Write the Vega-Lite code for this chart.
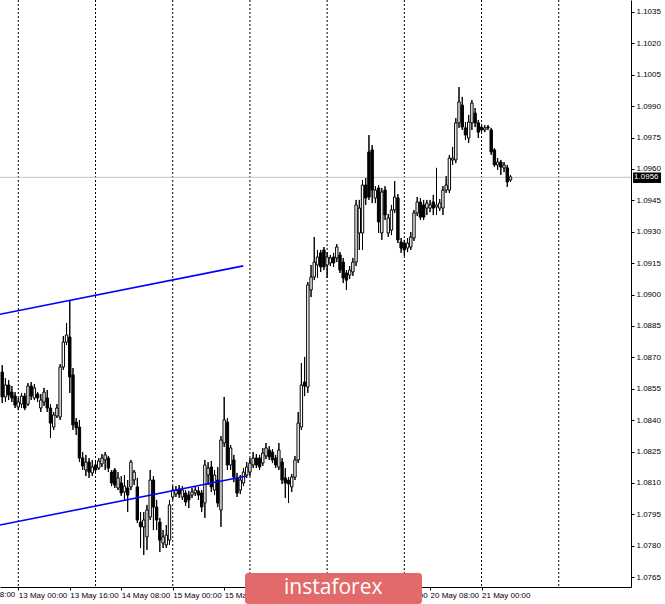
{
"$schema": "https://vega.github.io/schema/vega-lite/v6.json",
"width": 631, "height": 587,
"autosize": {"type": "none"},
"padding": {"left": 0, "top": 0, "right": 34, "bottom": 17},
"background": "white",
"config": {"view": {"stroke": null}, "axis": {"labelOverlap": false, "labelBound": false, "labelFlush": false, "grid": false, "tickCount": 100}, "scale": {"continuousPadding": 0}},
"datasets": {
"candles": [
{"t":-5,"open":1.08630,"high":1.08663,"low":1.08482,"close":1.08511},
{"t":-4,"open":1.08511,"high":1.08601,"low":1.08487,"close":1.08568},
{"t":-3,"open":1.08568,"high":1.08592,"low":1.08496,"close":1.08520},
{"t":-2,"open":1.08534,"high":1.08563,"low":1.08487,"close":1.08506},
{"t":-1,"open":1.08515,"high":1.08534,"low":1.08458,"close":1.08472},
{"t":0,"open":1.08463,"high":1.08506,"low":1.08448,"close":1.08487},
{"t":1,"open":1.08477,"high":1.08530,"low":1.08458,"close":1.08515},
{"t":2,"open":1.08515,"high":1.08530,"low":1.08448,"close":1.08458},
{"t":3,"open":1.08477,"high":1.08577,"low":1.08468,"close":1.08563},
{"t":4,"open":1.08563,"high":1.08582,"low":1.08496,"close":1.08515},
{"t":5,"open":1.08506,"high":1.08573,"low":1.08496,"close":1.08554},
{"t":6,"open":1.08525,"high":1.08534,"low":1.08487,"close":1.08506},
{"t":7,"open":1.08458,"high":1.08525,"low":1.08439,"close":1.08496},
{"t":8,"open":1.08487,"high":1.08554,"low":1.08468,"close":1.08534},
{"t":9,"open":1.08506,"high":1.08544,"low":1.08439,"close":1.08458},
{"t":10,"open":1.08458,"high":1.08477,"low":1.08315,"close":1.08386},
{"t":11,"open":1.08367,"high":1.08439,"low":1.08353,"close":1.08425},
{"t":12,"open":1.08420,"high":1.08477,"low":1.08410,"close":1.08458},
{"t":13,"open":1.08415,"high":1.08668,"low":1.08401,"close":1.08654},
{"t":14,"open":1.08654,"high":1.08802,"low":1.08640,"close":1.08773},
{"t":15,"open":1.08773,"high":1.08864,"low":1.08759,"close":1.08807},
{"t":16,"open":1.08797,"high":1.08974,"low":1.08530,"close":1.08606},
{"t":17,"open":1.08616,"high":1.08649,"low":1.08353,"close":1.08377},
{"t":18,"open":1.08391,"high":1.08410,"low":1.08329,"close":1.08363},
{"t":19,"open":1.08367,"high":1.08401,"low":1.08200,"close":1.08219},
{"t":20,"open":1.08219,"high":1.08248,"low":1.08162,"close":1.08181},
{"t":21,"open":1.08162,"high":1.08234,"low":1.08133,"close":1.08200},
{"t":22,"open":1.08200,"high":1.08219,"low":1.08124,"close":1.08152},
{"t":23,"open":1.08148,"high":1.08210,"low":1.08133,"close":1.08176},
{"t":24,"open":1.08186,"high":1.08210,"low":1.08143,"close":1.08162},
{"t":25,"open":1.08171,"high":1.08219,"low":1.08162,"close":1.08205},
{"t":26,"open":1.08191,"high":1.08238,"low":1.08176,"close":1.08219},
{"t":27,"open":1.08210,"high":1.08248,"low":1.08162,"close":1.08234},
{"t":28,"open":1.08219,"high":1.08229,"low":1.08152,"close":1.08171},
{"t":29,"open":1.08152,"high":1.08162,"low":1.08085,"close":1.08100},
{"t":30,"open":1.08162,"high":1.08171,"low":1.08076,"close":1.08090},
{"t":31,"open":1.08076,"high":1.08152,"low":1.08066,"close":1.08124},
{"t":32,"open":1.08100,"high":1.08133,"low":1.08038,"close":1.08052},
{"t":33,"open":1.08057,"high":1.08138,"low":1.08019,"close":1.08085},
{"t":34,"open":1.08076,"high":1.08114,"low":1.07961,"close":1.08042},
{"t":35,"open":1.08081,"high":1.08210,"low":1.08066,"close":1.08200},
{"t":36,"open":1.08114,"high":1.08162,"low":1.08090,"close":1.08152},
{"t":37,"open":1.08081,"high":1.08124,"low":1.07909,"close":1.07923},
{"t":38,"open":1.07913,"high":1.07961,"low":1.07789,"close":1.07890},
{"t":39,"open":1.07890,"high":1.07961,"low":1.07756,"close":1.07923},
{"t":40,"open":1.07842,"high":1.07995,"low":1.07780,"close":1.07971},
{"t":41,"open":1.07937,"high":1.08162,"low":1.07923,"close":1.08114},
{"t":42,"open":1.08114,"high":1.08133,"low":1.07875,"close":1.07985},
{"t":43,"open":1.07985,"high":1.08019,"low":1.07875,"close":1.07923},
{"t":44,"open":1.07913,"high":1.07933,"low":1.07770,"close":1.07827},
{"t":45,"open":1.07813,"high":1.07875,"low":1.07789,"close":1.07842},
{"t":46,"open":1.07804,"high":1.07899,"low":1.07789,"close":1.07851},
{"t":47,"open":1.07827,"high":1.08019,"low":1.07804,"close":1.07995},
{"t":48,"open":1.08033,"high":1.08085,"low":1.08019,"close":1.08066},
{"t":49,"open":1.08047,"high":1.08085,"low":1.08033,"close":1.08066},
{"t":50,"open":1.08071,"high":1.08090,"low":1.08028,"close":1.08047},
{"t":51,"open":1.08033,"high":1.08085,"low":1.08019,"close":1.08066},
{"t":52,"open":1.08052,"high":1.08066,"low":1.07990,"close":1.08009},
{"t":53,"open":1.08042,"high":1.08062,"low":1.07980,"close":1.08019},
{"t":54,"open":1.08042,"high":1.08076,"low":1.08028,"close":1.08057},
{"t":55,"open":1.08052,"high":1.08085,"low":1.08038,"close":1.08066},
{"t":56,"open":1.08062,"high":1.08081,"low":1.08019,"close":1.08042},
{"t":57,"open":1.08052,"high":1.08066,"low":1.07961,"close":1.07985},
{"t":58,"open":1.08004,"high":1.08210,"low":1.07933,"close":1.08186},
{"t":59,"open":1.08138,"high":1.08200,"low":1.08090,"close":1.08171},
{"t":60,"open":1.08176,"high":1.08205,"low":1.08057,"close":1.08081},
{"t":61,"open":1.08066,"high":1.08162,"low":1.08042,"close":1.08138},
{"t":62,"open":1.08114,"high":1.08176,"low":1.07985,"close":1.08004},
{"t":63,"open":1.07971,"high":1.08324,"low":1.07890,"close":1.08305},
{"t":64,"open":1.08291,"high":1.08511,"low":1.08272,"close":1.08401},
{"t":65,"open":1.08391,"high":1.08410,"low":1.08162,"close":1.08186},
{"t":66,"open":1.08186,"high":1.08281,"low":1.08162,"close":1.08267},
{"t":67,"open":1.08210,"high":1.08234,"low":1.08104,"close":1.08128},
{"t":68,"open":1.08124,"high":1.08148,"low":1.08033,"close":1.08052},
{"t":69,"open":1.08066,"high":1.08138,"low":1.08047,"close":1.08114},
{"t":70,"open":1.08100,"high":1.08171,"low":1.08085,"close":1.08152},
{"t":71,"open":1.08138,"high":1.08200,"low":1.08124,"close":1.08176},
{"t":72,"open":1.08152,"high":1.08219,"low":1.08133,"close":1.08195},
{"t":73,"open":1.08186,"high":1.08248,"low":1.08171,"close":1.08219},
{"t":74,"open":1.08219,"high":1.08238,"low":1.08171,"close":1.08186},
{"t":75,"open":1.08219,"high":1.08234,"low":1.08162,"close":1.08176},
{"t":76,"open":1.08195,"high":1.08267,"low":1.08181,"close":1.08243},
{"t":77,"open":1.08229,"high":1.08291,"low":1.08214,"close":1.08267},
{"t":78,"open":1.08257,"high":1.08276,"low":1.08210,"close":1.08224},
{"t":79,"open":1.08248,"high":1.08262,"low":1.08195,"close":1.08210},
{"t":80,"open":1.08219,"high":1.08234,"low":1.08171,"close":1.08186},
{"t":81,"open":1.08176,"high":1.08291,"low":1.08162,"close":1.08257},
{"t":82,"open":1.08200,"high":1.08219,"low":1.08095,"close":1.08114},
{"t":83,"open":1.08124,"high":1.08171,"low":1.08028,"close":1.08100},
{"t":84,"open":1.08114,"high":1.08128,"low":1.08004,"close":1.08095},
{"t":85,"open":1.08081,"high":1.08143,"low":1.08057,"close":1.08128},
{"t":86,"open":1.08128,"high":1.08229,"low":1.08114,"close":1.08210},
{"t":87,"open":1.08210,"high":1.08439,"low":1.08195,"close":1.08386},
{"t":88,"open":1.08367,"high":1.08673,"low":1.08353,"close":1.08568},
{"t":89,"open":1.08582,"high":1.08702,"low":1.08515,"close":1.08563},
{"t":90,"open":1.08558,"high":1.09060,"low":1.08530,"close":1.09046},
{"t":91,"open":1.09022,"high":1.09141,"low":1.08988,"close":1.09084},
{"t":92,"open":1.09084,"high":1.09275,"low":1.09069,"close":1.09155},
{"t":93,"open":1.09141,"high":1.09213,"low":1.09079,"close":1.09179},
{"t":94,"open":1.09199,"high":1.09213,"low":1.09108,"close":1.09132},
{"t":95,"open":1.09213,"high":1.09227,"low":1.09117,"close":1.09132},
{"t":96,"open":1.09141,"high":1.09203,"low":1.09079,"close":1.09179},
{"t":97,"open":1.09151,"high":1.09189,"low":1.09136,"close":1.09175},
{"t":98,"open":1.09179,"high":1.09199,"low":1.09132,"close":1.09151},
{"t":99,"open":1.09175,"high":1.09241,"low":1.09155,"close":1.09227},
{"t":100,"open":1.09189,"high":1.09203,"low":1.09103,"close":1.09117},
{"t":101,"open":1.09155,"high":1.09175,"low":1.09055,"close":1.09079},
{"t":102,"open":1.09103,"high":1.09117,"low":1.09022,"close":1.09069},
{"t":103,"open":1.09093,"high":1.09136,"low":1.09074,"close":1.09117},
{"t":104,"open":1.09108,"high":1.09175,"low":1.09089,"close":1.09155},
{"t":105,"open":1.09155,"high":1.09452,"low":1.09136,"close":1.09428},
{"t":106,"open":1.09294,"high":1.09452,"low":1.09213,"close":1.09413},
{"t":107,"open":1.09294,"high":1.09547,"low":1.09213,"close":1.09523},
{"t":108,"open":1.09523,"high":1.09557,"low":1.09428,"close":1.09461},
{"t":109,"open":1.09681,"high":1.09762,"low":1.09452,"close":1.09466},
{"t":110,"open":1.09691,"high":1.09714,"low":1.09437,"close":1.09499},
{"t":111,"open":1.09461,"high":1.09518,"low":1.09437,"close":1.09499},
{"t":112,"open":1.09509,"high":1.09523,"low":1.09294,"close":1.09347},
{"t":113,"open":1.09294,"high":1.09509,"low":1.09261,"close":1.09490},
{"t":114,"open":1.09499,"high":1.09518,"low":1.09356,"close":1.09380},
{"t":115,"open":1.09294,"high":1.09385,"low":1.09275,"close":1.09366},
{"t":116,"open":1.09308,"high":1.09428,"low":1.09284,"close":1.09404},
{"t":117,"open":1.09404,"high":1.09542,"low":1.09390,"close":1.09466},
{"t":118,"open":1.09461,"high":1.09480,"low":1.09246,"close":1.09261},
{"t":119,"open":1.09251,"high":1.09270,"low":1.09199,"close":1.09222},
{"t":120,"open":1.09246,"high":1.09261,"low":1.09184,"close":1.09213},
{"t":121,"open":1.09222,"high":1.09270,"low":1.09203,"close":1.09246},
{"t":122,"open":1.09227,"high":1.09299,"low":1.09213,"close":1.09275},
{"t":123,"open":1.09270,"high":1.09404,"low":1.09256,"close":1.09390},
{"t":124,"open":1.09390,"high":1.09466,"low":1.09375,"close":1.09442},
{"t":125,"open":1.09442,"high":1.09461,"low":1.09356,"close":1.09370},
{"t":126,"open":1.09428,"high":1.09452,"low":1.09356,"close":1.09370},
{"t":127,"open":1.09413,"high":1.09452,"low":1.09380,"close":1.09437},
{"t":128,"open":1.09413,"high":1.09452,"low":1.09394,"close":1.09428},
{"t":129,"open":1.09442,"high":1.09476,"low":1.09380,"close":1.09413},
{"t":130,"open":1.09418,"high":1.09605,"low":1.09380,"close":1.09428},
{"t":131,"open":1.09413,"high":1.09456,"low":1.09399,"close":1.09437},
{"t":132,"open":1.09413,"high":1.09518,"low":1.09380,"close":1.09499},
{"t":133,"open":1.09499,"high":1.09566,"low":1.09485,"close":1.09523},
{"t":134,"open":1.09499,"high":1.09667,"low":1.09485,"close":1.09652},
{"t":135,"open":1.09643,"high":1.09705,"low":1.09619,"close":1.09652},
{"t":136,"open":1.09643,"high":1.09843,"low":1.09628,"close":1.09820},
{"t":137,"open":1.09820,"high":1.09991,"low":1.09796,"close":1.09920},
{"t":138,"open":1.09905,"high":1.09944,"low":1.09786,"close":1.09800},
{"t":139,"open":1.09796,"high":1.09824,"low":1.09738,"close":1.09762},
{"t":140,"open":1.09748,"high":1.09858,"low":1.09724,"close":1.09824},
{"t":141,"open":1.09820,"high":1.09929,"low":1.09786,"close":1.09915},
{"t":142,"open":1.09867,"high":1.09891,"low":1.09800,"close":1.09820},
{"t":143,"open":1.09820,"high":1.09834,"low":1.09748,"close":1.09776},
{"t":144,"open":1.09800,"high":1.09815,"low":1.09772,"close":1.09786},
{"t":145,"open":1.09786,"high":1.09810,"low":1.09776,"close":1.09796},
{"t":146,"open":1.09800,"high":1.09810,"low":1.09786,"close":1.09796},
{"t":147,"open":1.09786,"high":1.09796,"low":1.09667,"close":1.09681},
{"t":148,"open":1.09691,"high":1.09700,"low":1.09609,"close":1.09619},
{"t":149,"open":1.09619,"high":1.09652,"low":1.09595,"close":1.09633},
{"t":150,"open":1.09633,"high":1.09643,"low":1.09571,"close":1.09609},
{"t":151,"open":1.09605,"high":1.09633,"low":1.09585,"close":1.09619},
{"t":152,"open":1.09605,"high":1.09619,"low":1.09514,"close":1.09538},
{"t":153,"open":1.09547,"high":1.09571,"low":1.09538,"close":1.09562}
],
"separators": [{"t":0},{"t":24},{"t":48},{"t":72},{"t":96},{"t":120},{"t":144},{"t":168}],
"trend": [
{"line":"upper","t":-5.69,"p":1.08906},{"line":"upper","t":69.94,"p":1.09137},
{"line":"lower","t":-5.69,"p":1.07899},{"line":"lower","t":71.0,"p":1.08133}
],
"bid": [{"price":1.0956,"label":"1.0956"}],
"brand": [{"name":"instaforex"}],
"edgeLabel": [{"t":-16,"label":"12 May 08:00"}]
},
"layer": [
{
"data": {"name": "candles"},
"mark": {"type": "rule", "color": "black", "strokeWidth": 1},
"encoding": {
"x": {"field": "t", "type": "quantitative", "title": null,
"scale": {"domain": [-5.69, 190.46], "nice": false, "zero": false, "padding": 0},
"axis": {"values": [0, 16, 32, 48, 64, 80, 96, 112, 128, 144], "tickCount": 100,
"labelExpr": "datum.value==0?'13 May 00:00':datum.value==16?'13 May 16:00':datum.value==32?'14 May 08:00':datum.value==48?'15 May 00:00':datum.value==64?'15 May 16:00':datum.value==80?'18 May 08:00':datum.value==96?'19 May 00:00':datum.value==112?'19 May 16:00':datum.value==128?'20 May 08:00':'21 May 00:00'",
"labelAlign": "left", "labelBaseline": "top", "labelFont": "Liberation Sans", "labelFontSize": 8, "labelColor": "black",
"tickSize": 3, "tickColor": "black", "domainColor": "black", "labelPadding": 1,
"grid": false, "labelOverlap": false, "labelBound": false, "labelFlush": false}},
"y": {"field": "low", "type": "quantitative", "title": null,
"scale": {"domain": [1.07603, 1.10407], "nice": false, "zero": false, "padding": 0},
"axis": {"orient": "right", "tickCount": 100, "values": [1.0765, 1.078, 1.0795, 1.081, 1.0825, 1.084, 1.0855, 1.087, 1.0885, 1.09, 1.0915, 1.093, 1.0945, 1.096, 1.0975, 1.099, 1.1005, 1.102, 1.1035],
"format": ".4f", "labelFont": "Liberation Sans", "labelFontSize": 8, "labelColor": "black",
"tickSize": 3, "tickColor": "black", "domainColor": "black", "labelPadding": 2,
"grid": false, "labelOverlap": false, "labelBound": false, "labelFlush": false}},
"y2": {"field": "high"}
}
},
{
"data": {"name": "separators"},
"mark": {"type": "rule", "color": "black", "strokeWidth": 1, "strokeDash": [2, 2]},
"encoding": {
"x": {"field": "t", "type": "quantitative", "title": null}
}
},
{
"data": {"name": "bid"},
"mark": {"type": "rule", "color": "#C0C0C0", "strokeWidth": 1},
"encoding": {
"y": {"field": "price", "type": "quantitative", "title": null}
}
},
{
"data": {"name": "candles"},
"mark": {"type": "rule", "color": "black", "strokeWidth": 1},
"encoding": {
"x": {"field": "t", "type": "quantitative", "title": null},
"y": {"field": "low", "type": "quantitative", "title": null},
"y2": {"field": "high"}
}
},
{
"data": {"name": "candles"},
"mark": {"type": "bar", "width": 2.4, "stroke": "black", "strokeWidth": 1},
"encoding": {
"x": {"field": "t", "type": "quantitative", "title": null},
"y": {"field": "open", "type": "quantitative", "title": null},
"y2": {"field": "close"},
"fill": {"condition": {"test": "datum.close < datum.open", "value": "black"}, "value": "white"}
}
},
{
"data": {"name": "trend"},
"mark": {"type": "line", "color": "#0000FF", "strokeWidth": 1.6},
"encoding": {
"x": {"field": "t", "type": "quantitative", "title": null},
"y": {"field": "p", "type": "quantitative", "title": null},
"detail": {"field": "line"}
}
},
{
"data": {"name": "edgeLabel"},
"mark": {"type": "text", "color": "black", "font": "Liberation Sans", "fontSize": 8, "align": "left", "baseline": "top"},
"encoding": {
"x": {"field": "t", "type": "quantitative", "title": null},
"y": {"datum": 1.07584, "type": "quantitative", "title": null},
"text": {"field": "label"}
}
},
{
"data": {"name": "bid"},
"mark": {"type": "rect", "color": "black"},
"encoding": {
"x": {"datum": 191.1, "type": "quantitative", "title": null},
"x2": {"datum": 199.8},
"y": {"datum": 1.09583, "type": "quantitative", "title": null},
"y2": {"datum": 1.09533}
}
},
{
"data": {"name": "bid"},
"mark": {"type": "text", "color": "white", "font": "Liberation Sans", "fontSize": 8, "align": "left", "baseline": "middle", "dx": 1},
"encoding": {
"x": {"datum": 191.1, "type": "quantitative", "title": null},
"y": {"field": "price", "type": "quantitative", "title": null},
"text": {"field": "label"}
}
},
{
"data": {"name": "brand"},
"mark": {"type": "rect", "color": "#E36A6A", "cornerRadius": 3},
"encoding": {
"x": {"datum": 70.47, "type": "quantitative", "title": null},
"x2": {"datum": 125.5},
"y": {"datum": 1.07670, "type": "quantitative", "title": null},
"y2": {"datum": 1.07522}
}
},
{
"data": {"name": "brand"},
"mark": {"type": "text", "color": "white", "font": "Open Sans", "fontSize": 21, "align": "center", "baseline": "middle"},
"encoding": {
"x": {"datum": 97.9, "type": "quantitative", "title": null},
"y": {"datum": 1.07600, "type": "quantitative", "title": null},
"text": {"field": "name"}
}
}
]
}
